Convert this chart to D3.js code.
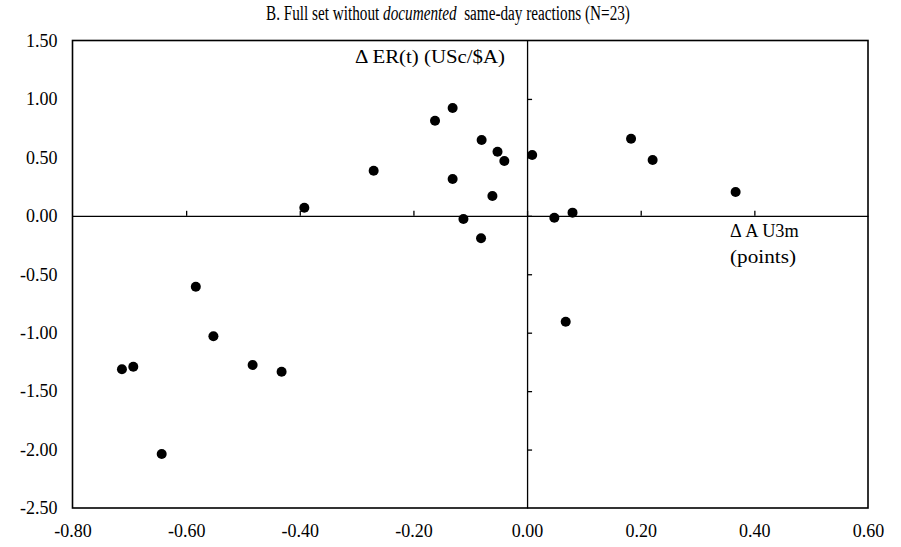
<!DOCTYPE html>
<html>
<head>
<meta charset="utf-8">
<script src="https://cdn.jsdelivr.net/npm/d3@7/dist/d3.min.js"></script>
<style>
  html, body { margin: 0; padding: 0; background: #fff; }
  svg { display: block; }
  text { font-family: "Liberation Serif", "Times New Roman", serif; fill: #000; }
</style>
</head>
<body>
<svg id="chart" width="901" height="547"></svg>
<script>
// ---- data ----
const xValues = [-0.392, -0.270, -0.162, -0.131, -0.131, -0.080, -0.052, -0.040, -0.061, -0.112, -0.081,
                  0.009, 0.048, 0.080, 0.183, 0.221, 0.367, 0.068,
                 -0.583, -0.552, -0.713, -0.693, -0.483, -0.432, -0.643];
const yValues = [0.069, 0.386, 0.814, 0.922, 0.315, 0.648, 0.548, 0.469, 0.169, -0.027, -0.192,
                 0.520, -0.016, 0.027, 0.660, 0.477, 0.204, -0.906,
                 -0.607, -1.031, -1.313, -1.291, -1.276, -1.334, -2.038];
const xTicks = [-0.8, -0.6, -0.4, -0.2, 0.0, 0.2, 0.4, 0.6];
const xTickLabels = ["-0.80", "-0.60", "-0.40", "-0.20", "0.00", "0.20", "0.40", "0.60"];
const yTicks = [1.5, 1.0, 0.5, 0.0, -0.5, -1.0, -1.5, -2.0, -2.5];
const yTickLabels = ["1.50", "1.00", "0.50", "0.00", "-0.50", "-1.00", "-1.50", "-2.00", "-2.50"];
const titleParts = ["B. Full set without ", "documented", "\u00a0 same-day reactions (N=23)"];
const yAxisTitle = "\u0394 ER(t) (USc/$A)";
const xAxisTitle = ["\u0394 A U3m", "(points)"];

// ---- layout ----
const pL = 72.5, pR = 868, pT = 40.5, pB = 508;
const svg = d3.select("#chart");
const x = d3.scaleLinear().domain([-0.8, 0.6]).range([pL, pR]);
const y = d3.scaleLinear().domain([-2.5, 1.5]).range([pB, pT]);

// frame
svg.append("rect")
  .attr("x", pL).attr("y", pT)
  .attr("width", pR - pL).attr("height", pB - pT)
  .attr("fill", "none").attr("stroke", "#000").attr("stroke-width", 1.6);

// outer left labels
const yAxisG = svg.append("g")
  .attr("transform", `translate(${pL},0)`)
  .call(d3.axisLeft(y).tickValues(yTicks).tickSize(0).tickPadding(15)
        .tickFormat((d, i) => yTickLabels[i]));
yAxisG.select(".domain").remove();
yAxisG.selectAll("text").attr("font-size", 18);

// outer bottom labels
const xAxisG = svg.append("g")
  .attr("transform", `translate(0,${pB})`)
  .call(d3.axisBottom(x).tickValues(xTicks).tickSize(0).tickPadding(16)
        .tickFormat((d, i) => xTickLabels[i]));
xAxisG.select(".domain").remove();
xAxisG.selectAll("text").attr("font-size", 18);

// zero-crossing axes
const xZero = svg.append("g")
  .attr("transform", `translate(0,${y(0)})`)
  .call(d3.axisTop(x).tickValues(xTicks.slice(1, -1)).tickSize(5).tickSizeOuter(0).tickFormat(""));
xZero.selectAll("path, line").attr("stroke", "#000").attr("stroke-width", 1.3);

const yZero = svg.append("g")
  .attr("transform", `translate(${x(0)},0)`)
  .call(d3.axisRight(y).tickValues(yTicks.slice(1, -1)).tickSize(5).tickSizeOuter(0).tickFormat(""));
yZero.selectAll("path, line").attr("stroke", "#000").attr("stroke-width", 1.3);

// points
svg.append("g").selectAll("circle")
  .data(xValues.map((v, i) => [v, yValues[i]]))
  .join("circle")
  .attr("cx", d => x(d[0]))
  .attr("cy", d => y(d[1]))
  .attr("r", 5)
  .attr("fill", "#000");

// title (fit to reference width using bounding box)
const title = svg.append("text")
  .attr("x", 0).attr("y", 0)
  .attr("font-size", 20);
title.append("tspan").text(titleParts[0]);
title.append("tspan").attr("font-style", "italic").text(titleParts[1]);
title.append("tspan").text(titleParts[2]);
const bb = title.node().getBBox();
const targetW = 364;
const sx = targetW / bb.width;
title.attr("transform", `translate(${266 - bb.x * sx},20) scale(${sx},1)`);

// axis titles
function fitText(str, x0, y0, size, w) {
  const t = svg.append("text").attr("x", 0).attr("y", 0).attr("font-size", size).text(str);
  const b = t.node().getBBox();
  const s = w / b.width;
  t.attr("transform", `translate(${x0 - b.x * s},${y0}) scale(${s},1)`);
  return t;
}
fitText(yAxisTitle, 355, 63, 18, 150);
fitText(xAxisTitle[0], 730, 237, 19, 69);
fitText(xAxisTitle[1], 730, 263, 19, 66);
</script>
</body>
</html>
